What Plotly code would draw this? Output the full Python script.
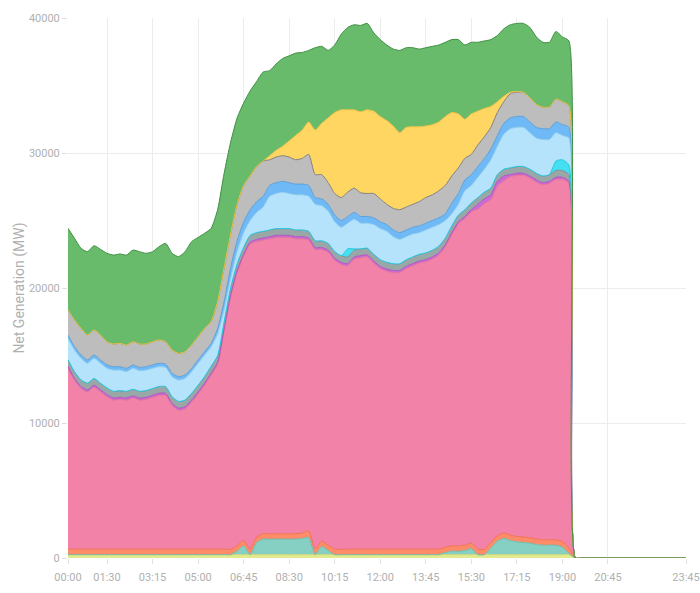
import plotly.graph_objects as go

# 15-minute intervals 00:00 .. 23:45
times = [f"{h:02d}:{m:02d}" for h in range(24) for m in (0, 15, 30, 45)]
tick_labels = ["00:00", "01:30", "03:15", "05:00", "06:45", "08:30", "10:15",
               "12:00", "13:45", "15:30", "17:15", "19:00", "20:45", "23:45"]

N_DATA = 78  # values reported up to 19:15, zero afterwards
ZEROS = [0] * (96 - N_DATA)

biomass = [250] * N_DATA + ZEROS
solar_utility = ([0] * 26 + [250, 650, 0, 900, 1150, 1150, 1150, 1150, 1150, 1150, 1200, 1250,
                  0, 600, 300] + [0] * 17 +
                 [150, 250, 250, 300, 450, 0, 0, 500, 1000, 1200, 1050, 950, 900, 850, 750,
                  700, 700, 700, 550, 100]) + ZEROS
other = [400] * 37 + [500] + [400] * 40 + ZEROS
gas = [13400, 12500, 11900, 11650, 12000, 11650, 11300, 11050, 11100, 11050, 11200, 11050,
       11100, 11250, 11400, 11400, 10650, 10300, 10400, 10900, 11500, 12150, 12900, 13700,
       16200, 18700, 20250, 21050, 22600, 21900, 21750, 21850, 21950, 21950, 21950, 21850,
       21800, 21550, 22200, 21600, 21700, 21400, 21100, 21000, 21500, 21600, 21650, 21200,
       20800, 20600, 20500, 20500, 20800, 21000, 21200, 21300, 21500, 21800, 22250, 23050,
       23850, 24200, 24550, 25200, 25600, 25400, 25900, 26100, 26550, 26750, 26800, 26650,
       26450, 26300, 26400, 26700, 26850, 27000] + ZEROS
oil = [150] * 63 + [350] * 5 + [150] * 10 + ZEROS
coal = [500] * N_DATA + ZEROS
storage = [0] * 43 + [600, 100] + [0] * 30 + [700, 800, 700] + ZEROS
hydro = [1570, 1600, 1590, 1470, 1490, 1470, 1450, 1570, 1520, 1450, 1550, 1520, 1520, 1500,
         1470, 1420, 1480, 1580, 1610, 1600, 1620, 1580, 1450, 1600, 900, 700, 900, 1100,
         1100, 1500, 1800, 2500, 2600, 2700, 2600, 2600, 2600, 2600, 2700, 2600, 2400, 2200,
         2100, 1900, 2200, 1900, 1850, 2200, 2300, 2300, 2000, 1800, 1700, 1700, 1600, 1700,
         1700, 1600, 1300, 900, 800, 1400, 1300, 1500, 1700, 2100, 2100, 2600, 2900, 2900,
         2900, 2700, 2600, 2700, 2600, 2100, 1800, 2000] + ZEROS
imports = [250] * 23 + [400, 600] + [800] * 13 + [500] * 21 + [800] * 19 + ZEROS
nuclear = [1850, 1980, 1970, 1850, 1850, 1850, 1720, 1680, 1730, 1730, 1720, 1730, 1680, 1720,
           1730, 1650, 1730, 1730, 1720, 1730, 1730, 1730, 1600, 2000, 2500, 2500, 2700, 2700,
           2500, 2600, 2600, 1900, 1900, 1900, 1900, 1800, 1900, 2300, 1700, 1800, 1600, 1600,
           1700, 1800, 1800, 1750, 1700, 1800, 1700, 1500, 1600, 1700, 1700, 1700, 1800, 1900,
           1900, 2000, 2100, 2000, 1900, 1600, 1500, 1600, 1600, 1600, 1700, 1600, 1800, 1800,
           1800, 1800, 1700, 1600, 1600, 1700, 1700, 1600] + ZEROS
solar = ([0] * 31 + [300, 500, 700, 1200, 1800, 2100, 2400, 3300, 3800, 4800, 6000, 6500, 6100,
                     5800, 6000, 6200, 6100, 6100, 6200, 6100, 5700, 5900, 5750, 5550, 5300, 5200,
                     5100, 5100, 4700, 4000, 2900, 3000, 2500, 2100, 1550, 800, 400, 100, 50]
         + [0] * 8) + ZEROS
wind = [6050, 6050, 5930, 6170, 6240, 6340, 6550, 6590, 6620, 6660, 6790, 6840, 6720, 6670,
        6910, 7290, 7160, 7160, 7410, 7650, 7350, 7040, 6920, 6800, 7000, 6800, 6400, 6100,
        6300, 6300, 6600, 6300, 6400, 6500, 6300, 6100, 5750, 5300, 6100, 5700, 5000, 5000,
        5600, 6100, 6300, 6400, 6400, 5800, 5700, 5600, 5700, 6100, 5900, 5850, 5750, 5800,
        5800, 5700, 5500, 5400, 5500, 5500, 5300, 5100, 5000, 4950, 4900, 5000, 5000, 5050,
        5100, 5200, 5000, 4800, 4800, 5000, 4800, 4800] + ZEROS

series = [
    ("Biomass", biomass, "#e2ea8e", "#cfd873"),
    ("Solar (Utility)", solar_utility, "#86d0c3", "#6cbcae"),
    ("Other", other, "#ff8c68", "#f07050"),
    ("Gas", gas, "#f282a7", "#e0709a"),
    ("Oil", oil, "#c96ad6", "#b050c0"),
    ("Coal", coal, "#9aa7a7", "#808e8e"),
    ("Storage", storage, "#44e0f2", "#20c8e0"),
    ("Hydro", hydro, "#b5e3fb", "#90cdee"),
    ("Imports", imports, "#6eb9f6", "#5a9fd8"),
    ("Nuclear", nuclear, "#bdbdbd", "#7f7f7f"),
    ("Solar", solar, "#ffd662", "#f0c040"),
    ("Wind", wind, "#67bb6b", "#3f8f43"),
]
for name, vals, _, _ in series:
    assert len(vals) == len(times), (name, len(vals))

fig = go.Figure()
for name, vals, fill, line in series:
    fig.add_trace(go.Scatter(
        x=times, y=vals, name=name, mode="lines", stackgroup="one",
        fillcolor=fill, line=dict(color=line, width=1, shape="spline", smoothing=0.6),
    ))

fig.update_layout(
    width=700, height=593,
    margin=dict(l=68, r=14, t=18, b=35, autoexpand=False),
    paper_bgcolor="white", plot_bgcolor="white",
    showlegend=False,
    font=dict(family="Roboto, sans-serif", color="#b0b0b0", size=11),
)
fig.update_xaxes(
    type="category", tickmode="array", tickvals=tick_labels, ticktext=tick_labels,
    range=[0, 95], showgrid=True, gridcolor="#ececec", gridwidth=1, automargin=False,
    ticks="outside", ticklen=5, tickcolor="#e0e0e0", showline=False, zeroline=False,
    ticklabelstandoff=4, tickfont=dict(size=11, color="#b0b0b0"),
)
fig.update_yaxes(
    range=[0, 40000], tickvals=[0, 10000, 20000, 30000, 40000], tickformat="d",
    showgrid=True, gridcolor="#ececec", gridwidth=1, zeroline=False, automargin=False,
    ticks="outside", ticklen=5, tickcolor="#e0e0e0",
    title=dict(text="Net Generation (MW)", font=dict(size=14, color="#b0b0b0"), standoff=0),
    tickfont=dict(size=11, color="#b0b0b0"),
)
fig.write_html("out.html")
